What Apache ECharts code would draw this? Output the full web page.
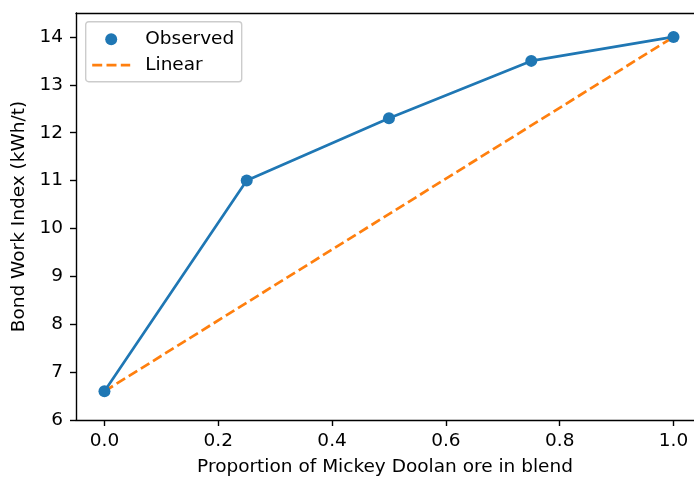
<!DOCTYPE html>
<html>
<head>
<meta charset="utf-8">
<script src="https://cdn.jsdelivr.net/npm/echarts@6/dist/echarts.min.js"></script>
<style>
  html, body { margin: 0; padding: 0; background: #fff; }
  #chart { width: 694px; height: 477px; }
</style>
</head>
<body>
<div id="chart"></div>
<script>
// Proportion of Mickey Doolan ore in the blend
const proportions = [0.0, 0.25, 0.5, 0.75, 1.0];
// Measured Bond work index (kWh/t)
const observed = [6.6, 11.0, 12.3, 13.5, 14.0];
// Linear blending rule between the two pure ores
const linearX = [0.0, 1.0];
const linear = [6.6, 14.0];
// Tick positions
const xTicks = [0.0, 0.2, 0.4, 0.6, 0.8, 1.0];
const yTicks = [6, 7, 8, 9, 10, 11, 12, 13, 14];

const FONT = 'DejaVu Sans';
const FS = 18.5;
const BLUE = '#1f77b4';
const ORANGE = '#ff7f0e';
const DASH = [10, 4.3];

const chart = echarts.init(document.getElementById('chart'), null, { renderer: 'canvas' });

const spine = { show: true, onZero: false, lineStyle: { color: '#000', width: 1.4 } };
const tick = (vals) => ({ show: true, length: 6, lineStyle: { color: '#000', width: 1.4 }, customValues: vals });

chart.setOption({
  animation: false,
  backgroundColor: '#fff',
  textStyle: { fontFamily: FONT },
  grid: { left: 76, right: 0, top: 13, bottom: 57, outerBoundsMode: 'none', containLabel: false },
  xAxis: [
    {
      type: 'value', min: -0.05, max: 1.036,
      name: 'Proportion of Mickey Doolan ore in blend',
      nameLocation: 'middle', nameGap: 38,
      nameTextStyle: { fontFamily: FONT, fontSize: FS, color: '#000' },
      axisLine: spine,
      axisTick: tick(xTicks),
      axisLabel: { fontFamily: FONT, fontSize: FS, color: '#000', margin: 12,
        customValues: xTicks, formatter: v => v.toFixed(1) },
      splitLine: { show: false }
    },
    {
      // top frame line
      type: 'value', position: 'top', min: -0.05, max: 1.036,
      axisLine: spine, axisTick: { show: false }, axisLabel: { show: false },
      splitLine: { show: false }
    }
  ],
  yAxis: {
    type: 'value', min: 6, max: 14.5,
    name: 'Bond Work Index (kWh/t)',
    nameLocation: 'middle', nameGap: 44, nameRotate: 90,
    nameTextStyle: { fontFamily: FONT, fontSize: FS, color: '#000' },
    axisLine: spine,
    axisTick: tick(yTicks),
    axisLabel: { fontFamily: FONT, fontSize: FS, color: '#000', margin: 13,
      customValues: yTicks },
    splitLine: { show: false }
  },
  series: [
    {
      name: 'Observed line', type: 'line',
      data: proportions.map((x, i) => [x, observed[i]]),
      showSymbol: false, symbol: 'none',
      lineStyle: { color: BLUE, width: 2.7 }, z: 2
    },
    {
      name: 'Linear', type: 'line',
      data: linearX.map((x, i) => [x, linear[i]]),
      showSymbol: false, symbol: 'none',
      lineStyle: { color: ORANGE, width: 2.7, type: DASH }, z: 3
    },
    {
      name: 'Observed', type: 'scatter',
      data: proportions.map((x, i) => [x, observed[i]]),
      symbol: 'circle', symbolSize: 12,
      itemStyle: { color: BLUE, opacity: 1 }, z: 4
    }
  ],
  // legend box
  graphic: [
    {
      type: 'group', left: 85, top: 21, z: 100,
      children: [
        { type: 'rect', shape: { x: 0.5, y: 0.5, width: 156, height: 60, r: 3 },
          style: { fill: 'rgba(255,255,255,0.8)', stroke: '#cccccc', lineWidth: 1.4 } },
        { type: 'circle', shape: { cx: 26, cy: 18, r: 6 }, style: { fill: BLUE } },
        { type: 'text', x: 60, y: 17.5,
          style: { text: 'Observed', font: FS + 'px "' + FONT + '"', fill: '#000', verticalAlign: 'middle' } },
        { type: 'line', shape: { x1: 7, y1: 44, x2: 45, y2: 44 },
          style: { stroke: ORANGE, lineWidth: 2.7, lineDash: DASH } },
        { type: 'text', x: 60, y: 44,
          style: { text: 'Linear', font: FS + 'px "' + FONT + '"', fill: '#000', verticalAlign: 'middle' } }
      ]
    }
  ]
});
</script>
</body>
</html>
